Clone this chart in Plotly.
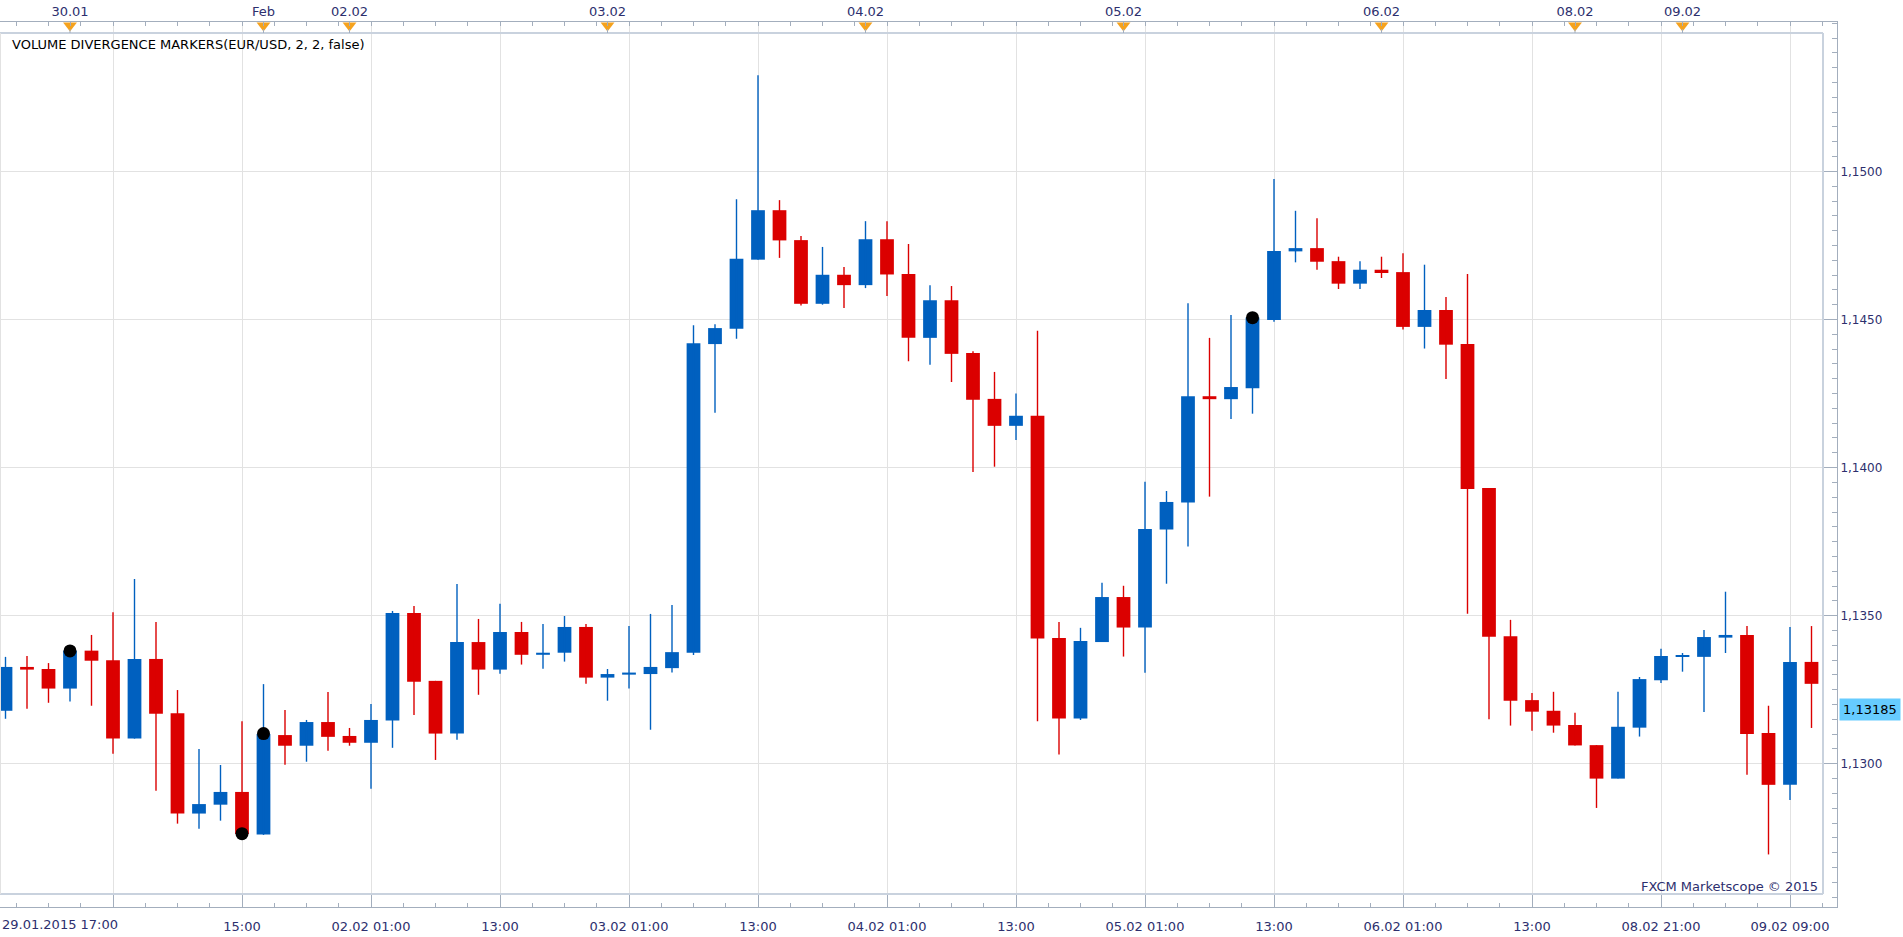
import numpy as np
import plotly.graph_objects as go

# ---------------- data (EUR/USD, 2-hour candles) ----------------
open_ = [1.13179, 1.13327, 1.13320, 1.13254, 1.13382, 1.13350, 1.13085, 1.13354, 1.13171, 1.12832,
         1.12862, 1.12905, 1.12761, 1.13097, 1.13061, 1.13141, 1.13094, 1.13071, 1.13146, 1.13509,
         1.13280, 1.13102, 1.13411, 1.13318, 1.13445, 1.13368, 1.13375, 1.13462, 1.13291, 1.13301,
         1.13303, 1.13323, 1.13375, 1.14417, 1.14469, 1.14702, 1.14869, 1.14768, 1.14553, 1.14651,
         1.14616, 1.14771, 1.14654, 1.14438, 1.14565, 1.14387, 1.14232, 1.14141, 1.14175, 1.13425,
         1.13153, 1.13411, 1.13563, 1.13460, 1.13791, 1.13882, 1.14241, 1.14231, 1.14268, 1.14498,
         1.14730, 1.14741, 1.14697, 1.14621, 1.14668, 1.14660, 1.14475, 1.14532, 1.14417, 1.13931,
         1.13431, 1.13215, 1.13179, 1.13131, 1.13063, 1.12950, 1.13122, 1.13282, 1.13361, 1.13361,
         1.13426, 1.13435, 1.13104, 1.12929, 1.13344]
high = [1.13361, 1.13364, 1.13340, 1.13384, 1.13435, 1.13512, 1.13624, 1.13479, 1.13249, 1.13050,
        1.12996, 1.13144, 1.13269, 1.13182, 1.13148, 1.13242, 1.13121, 1.13202, 1.13516, 1.13533,
        1.13280, 1.13607, 1.13489, 1.13540, 1.13479, 1.13472, 1.13499, 1.13472, 1.13320, 1.13465,
        1.13506, 1.13536, 1.14481, 1.14484, 1.14906, 1.15325, 1.14903, 1.14782, 1.14745, 1.14677,
        1.14832, 1.14832, 1.14755, 1.14616, 1.14613, 1.14393, 1.14323, 1.14250, 1.14462, 1.13479,
        1.13459, 1.13611, 1.13601, 1.13952, 1.13921, 1.14555, 1.14438, 1.14515, 1.14515, 1.14974,
        1.14867, 1.14842, 1.14712, 1.14697, 1.14712, 1.14724, 1.14685, 1.14576, 1.14654, 1.13931,
        1.13486, 1.13239, 1.13243, 1.13172, 1.13063, 1.13243, 1.13293, 1.13388, 1.13374, 1.13452,
        1.13581, 1.13465, 1.13196, 1.13462, 1.13465]
low = [1.13152, 1.13186, 1.13206, 1.13210, 1.13196, 1.13034, 1.13085, 1.12909, 1.12798, 1.12781,
       1.12808, 1.12761, 1.12760, 1.12997, 1.13007, 1.13044, 1.13061, 1.12916, 1.13054, 1.13165,
       1.13013, 1.13081, 1.13233, 1.13304, 1.13335, 1.13321, 1.13345, 1.13270, 1.13213, 1.13254,
       1.13115, 1.13308, 1.13367, 1.14185, 1.14435, 1.14702, 1.14708, 1.14547, 1.14550, 1.14539,
       1.14606, 1.14579, 1.14359, 1.14347, 1.14289, 1.13985, 1.14003, 1.14093, 1.13144, 1.13031,
       1.13148, 1.13411, 1.13362, 1.13307, 1.13608, 1.13734, 1.13902, 1.14164, 1.14182, 1.14492,
       1.14693, 1.14668, 1.14603, 1.14603, 1.14640, 1.14466, 1.14402, 1.14299, 1.13507, 1.13150,
       1.13129, 1.13112, 1.13105, 1.13062, 1.12851, 1.12950, 1.13092, 1.13273, 1.13311, 1.13175,
       1.13374, 1.12963, 1.12694, 1.12878, 1.13121]
close = [1.13327, 1.13318, 1.13254, 1.13382, 1.13348, 1.13085, 1.13354, 1.13169, 1.12832, 1.12864,
         1.12905, 1.12763, 1.13101, 1.13061, 1.13141, 1.13091, 1.13071, 1.13148, 1.13509, 1.13277,
         1.13102, 1.13411, 1.13318, 1.13445, 1.13368, 1.13375, 1.13462, 1.13291, 1.13303, 1.13308,
         1.13327, 1.13377, 1.14420, 1.14471, 1.14705, 1.14869, 1.14767, 1.14553, 1.14651, 1.14616,
         1.14771, 1.14652, 1.14438, 1.14565, 1.14384, 1.14229, 1.14141, 1.14175, 1.13423, 1.13153,
         1.13415, 1.13563, 1.13460, 1.13793, 1.13884, 1.14241, 1.14231, 1.14272, 1.14507, 1.14731,
         1.14741, 1.14695, 1.14621, 1.14668, 1.14657, 1.14475, 1.14532, 1.14415, 1.13928, 1.13429,
         1.13213, 1.13176, 1.13129, 1.13062, 1.12950, 1.13125, 1.13286, 1.13364, 1.13365, 1.13428,
         1.13435, 1.13101, 1.12929, 1.13344, 1.13270]

div_idx = [3, 11, 12, 58]
div_price = [1.13381, 1.12764, 1.13102, 1.14506]

grid_idx = [5, 11, 17, 23, 29, 35, 41, 47, 53, 59, 65, 71, 77, 83]
bottom_labels = ["", "15:00", "02.02 01:00", "13:00", "03.02 01:00", "13:00", "04.02 01:00",
                 "13:00", "05.02 01:00", "13:00", "06.02 01:00", "13:00", "08.02 21:00", "09.02 09:00"]
first_label = "29.01.2015 17:00"
date_idx = [3, 12, 16, 28, 40, 52, 64, 73, 78]
date_labels = ["30.01", "Feb", "02.02", "03.02", "04.02", "05.02", "06.02", "08.02", "09.02"]
price_ticks = [1.1300, 1.1350, 1.1400, 1.1450, 1.1500]
price_labels = ["1,1300", "1,1350", "1,1400", "1,1450", "1,1500"]
last_price = 1.13185
last_label = "1,13185"
title_text = "VOLUME DIVERGENCE MARKERS(EUR/USD, 2, 2, false)"
credit_text = "FXCM Marketscope © 2015"

# ---------------- geometry / style ----------------
W, H = 1903, 937
PL, PR, PT, PB = 0, 1837, 22, 907          # plot area in px
FR, FT, FB = 1823, 33, 894                  # inner frame right/top/bottom
X0, DX = 5.5, 21.5                          # px of candle 0, px per candle
PX_PER_UNIT = 29620.0
Y_REF_PX, Y_REF = 763.8, 1.13

xr = [(PL - X0) / DX, (PR - X0) / DX]
yr = [Y_REF - (PB - Y_REF_PX) / PX_PER_UNIT, Y_REF + (Y_REF_PX - PT) / PX_PER_UNIT]

def pxx(x):
    return (x - PL) / (PR - PL)

def pxy(y):
    return (PB - y) / (PB - PT)

BLUE = "#0060BF"
RED = "#DB0000"
GRID = "#E2E2E2"
AXIS = "#A3AEBD"
FRAME = "#C9D2DE"
TXT = "#2D2F6E"
FONT = "DejaVu Sans, Verdana, sans-serif"

n = len(open_)
idx = list(range(n))
up = [c >= o for o, c in zip(open_, close)]
colors = [BLUE if u else RED for u in up]
base = [min(o, c) for o, c in zip(open_, close)]
height = [abs(c - o) for o, c in zip(open_, close)]

fig = go.Figure()

# wicks
for col, flag in ((BLUE, True), (RED, False)):
    xs, ys = [], []
    for i in idx:
        if up[i] == flag:
            xs += [i, i, None]
            ys += [low[i], high[i], None]
    fig.add_trace(go.Scatter(x=xs, y=ys, mode="lines", line=dict(color=col, width=1.4),
                             hoverinfo="skip", showlegend=False))

# bodies
fig.add_trace(go.Bar(x=idx, y=height, base=base, width=0.64, marker=dict(color=colors, line=dict(width=0)),
                     showlegend=False, hoverinfo="skip"))

# divergence markers
fig.add_trace(go.Scatter(x=div_idx, y=div_price, mode="markers",
                         marker=dict(color="black", size=13, line=dict(width=0)),
                         showlegend=False, hoverinfo="skip"))

# date markers on top axis (hidden pixel axis y2)
fig.add_trace(go.Scatter(x=date_idx, y=[PB - 25.5] * len(date_idx), yaxis="y2", mode="markers",
                         marker=dict(symbol="triangle-down", color="#F5A21E", size=12, line=dict(width=0)),
                         showlegend=False, hoverinfo="skip", cliponaxis=False))

minor_x = [v for v in np.arange(0.5, 85.0, 1.5) if v not in grid_idx]

fig.update_layout(
    width=W, height=H, autosize=False,
    margin=dict(l=PL, r=W - PR, t=PT, b=H - PB, pad=0),
    paper_bgcolor="white", plot_bgcolor="white",
    barmode="overlay",
    font=dict(family=FONT, size=13, color=TXT),
    xaxis=dict(range=xr, tickmode="array", tickvals=grid_idx, ticktext=bottom_labels,
               showgrid=True, gridcolor=GRID, gridwidth=1, zeroline=False,
               showline=True, linecolor=AXIS, linewidth=1,
               ticks="inside", ticklen=13, tickcolor=AXIS, tickwidth=1,
               tickfont=dict(family=FONT, size=13, color=TXT),
               ticklabelstandoff=7,
               minor=dict(tickmode="array", tickvals=minor_x, ticks="inside", ticklen=4,
                          tickcolor=AXIS, showgrid=False),
               fixedrange=True),
    xaxis2=dict(range=xr, overlaying="x", side="top", anchor="y", tickmode="array",
                tickvals=date_idx, ticktext=date_labels, showgrid=False, zeroline=False,
                showline=True, linecolor=AXIS, linewidth=1,
                ticks="inside", ticklen=4, tickcolor=AXIS,
                tickfont=dict(family=FONT, size=13, color=TXT),
                minor=dict(tickmode="array", tickvals=minor_x + grid_idx, ticks="inside", ticklen=4,
                           tickcolor=AXIS, showgrid=False),
                fixedrange=True),
    yaxis=dict(range=yr, side="right", tickmode="array", tickvals=price_ticks, ticktext=price_labels,
               showgrid=True, gridcolor=GRID, gridwidth=1, zeroline=False,
               showline=True, linecolor=AXIS, linewidth=1,
               ticks="inside", ticklen=14, tickcolor=AXIS,
               tickfont=dict(family=FONT, size=12, color=TXT),
               minor=dict(tickmode="array",
                          tickvals=[v for v in np.round(np.arange(1.1255, 1.1550, 0.0005), 4)
                                    if round(v, 4) not in price_ticks],
                          ticks="inside", ticklen=5, tickcolor=AXIS, showgrid=False),
               fixedrange=True),
    yaxis2=dict(range=[0, PB - PT], overlaying="y", visible=False, fixedrange=True),
)

# dummy trace so xaxis2 is drawn
fig.add_trace(go.Scatter(x=[xr[0]], y=[yr[0]], xaxis="x2", mode="markers",
                         marker=dict(opacity=0), showlegend=False, hoverinfo="skip"))

shapes = [
    # hide gridlines in top band and right band
    dict(type="rect", xref="paper", yref="paper", x0=0, x1=1, y0=pxy(FT), y1=1,
         fillcolor="white", line=dict(width=0), layer="between"),
    dict(type="rect", xref="paper", yref="paper", x0=pxx(FR), x1=1, y0=0, y1=1,
         fillcolor="white", line=dict(width=0), layer="between"),
    # inner frame
    dict(type="line", xref="paper", yref="paper", x0=0, x1=pxx(FR), y0=pxy(FT), y1=pxy(FT),
         line=dict(color=FRAME, width=2), layer="above"),
    dict(type="line", xref="paper", yref="paper", x0=0, x1=pxx(FR), y0=pxy(FB), y1=pxy(FB),
         line=dict(color=FRAME, width=2), layer="above"),
    dict(type="line", xref="paper", yref="paper", x0=pxx(FR), x1=pxx(FR), y0=pxy(FB), y1=pxy(FT),
         line=dict(color=FRAME, width=2), layer="above"),
    dict(type="line", xref="paper", yref="paper", x0=pxx(0.5), x1=pxx(0.5), y0=pxy(FB), y1=pxy(FT),
         line=dict(color=GRID, width=1), layer="above"),
]
# thin stems below date triangles
for d in date_idx:
    shapes.append(dict(type="line", xref="x", yref="paper", x0=d, x1=d, y0=pxy(FT), y1=pxy(29),
                       line=dict(color=AXIS, width=1), layer="above"))
fig.update_layout(shapes=shapes)

annotations = [
    dict(text=title_text, xref="paper", yref="paper", x=pxx(10), y=pxy(44), xanchor="left",
         yanchor="middle", showarrow=False, font=dict(family=FONT, size=13, color="black")),
    dict(text=credit_text, xref="paper", yref="paper", x=pxx(1820), y=pxy(886), xanchor="right",
         yanchor="middle", showarrow=False, font=dict(family=FONT, size=13, color=TXT)),
    dict(text=first_label, xref="paper", yref="paper", x=0, y=pxy(924), xanchor="left",
         yanchor="middle", showarrow=False, font=dict(family=FONT, size=13, color=TXT)),
    dict(text=last_label, xref="paper", y=last_price, yref="y", x=1, xanchor="left", xshift=2,
         yanchor="middle", showarrow=False, bgcolor="#66CCFF", borderpad=3,
         font=dict(family=FONT, size=13, color="black")),
]
fig.update_layout(annotations=annotations)

fig.write_html("out.html", config={"displayModeBar": False})
